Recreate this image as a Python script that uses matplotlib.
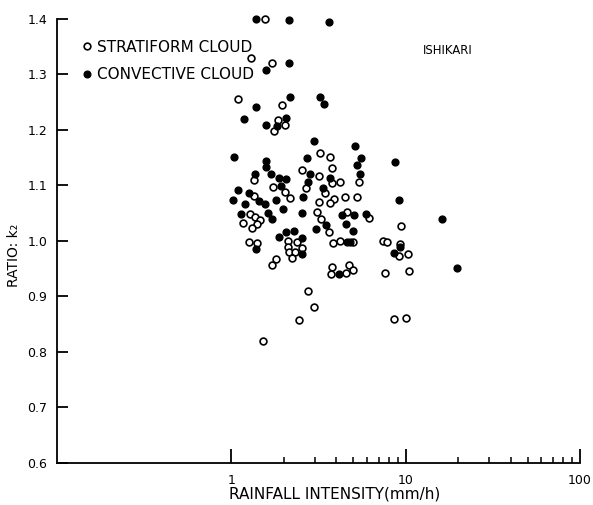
import numpy as np
import matplotlib
matplotlib.use("Agg")
import matplotlib.pyplot as plt
from matplotlib.lines import Line2D
from matplotlib.ticker import FixedLocator, NullFormatter

# stratiform cloud (open circles): rainfall intensity (mm/h), ratio k2
strat_x = [1.55, 1.30, 1.70, 1.09, 1.95, 1.76, 1.86, 2.04, 3.21, 3.68,
           3.78, 2.54, 1.35, 3.19, 3.77, 4.22, 5.43, 1.74, 2.68, 2.02,
           1.35, 3.43, 4.48, 5.29, 2.16, 3.89, 3.70, 3.17, 1.28, 1.37,
           1.47, 1.16, 1.40, 1.31, 3.10, 3.25, 3.62, 4.59, 6.18, 1.26,
           1.41, 2.11, 2.37, 3.84, 4.21, 5.01, 7.38, 7.83, 2.11, 2.54,
           2.13, 2.31, 2.24, 1.81, 1.70, 3.80, 3.73, 4.55, 4.76, 4.97,
           7.60, 10.47, 9.24, 9.21, 10.36, 9.46, 2.77, 2.99, 2.44, 1.52,
           8.59, 10.07]
strat_y = [1.400, 1.330, 1.320, 1.256, 1.245, 1.198, 1.218, 1.209, 1.159, 1.151,
           1.131, 1.128, 1.110, 1.117, 1.105, 1.107, 1.106, 1.097, 1.095, 1.089,
           1.081, 1.087, 1.080, 1.079, 1.077, 1.076, 1.069, 1.070, 1.049, 1.044,
           1.038, 1.033, 1.030, 1.024, 1.053, 1.040, 1.016, 1.053, 1.042, 0.998,
           0.997, 1.000, 0.999, 0.997, 1.000, 0.999, 1.000, 0.999, 0.989, 0.988,
           0.980, 0.981, 0.970, 0.968, 0.957, 0.954, 0.941, 0.943, 0.957, 0.948,
           0.942, 0.946, 0.995, 0.973, 0.977, 1.027, 0.909, 0.881, 0.858, 0.819,
           0.859, 0.862]

# convective cloud (filled circles)
conv_x = [1.39, 2.13, 3.64, 1.59, 2.13, 1.38, 2.18, 3.24, 3.41, 1.18,
          1.59, 1.83, 2.07, 2.99, 1.03, 1.59, 1.59, 2.71, 5.15, 5.58,
          5.27, 8.63, 1.36, 1.69, 1.88, 2.07, 2.81, 5.47, 2.77, 3.67,
          1.92, 3.37, 1.09, 1.26, 1.02, 1.44, 1.56, 1.20, 1.81, 2.58,
          9.20, 1.98, 1.14, 1.63, 1.70, 2.53, 3.47, 3.07, 4.33, 5.03,
          5.92, 4.54, 4.99, 1.87, 2.05, 2.30, 2.54, 1.39, 2.55, 4.60,
          4.79, 9.24, 8.53, 4.16, 16.2, 19.6]
conv_y = [1.400, 1.398, 1.395, 1.308, 1.320, 1.241, 1.260, 1.259, 1.247, 1.219,
          1.209, 1.207, 1.221, 1.180, 1.151, 1.144, 1.133, 1.149, 1.171, 1.150,
          1.137, 1.143, 1.120, 1.120, 1.113, 1.111, 1.121, 1.121, 1.106, 1.113,
          1.099, 1.096, 1.091, 1.086, 1.074, 1.072, 1.066, 1.067, 1.073, 1.079,
          1.073, 1.058, 1.048, 1.050, 1.039, 1.050, 1.029, 1.022, 1.046, 1.047,
          1.048, 1.030, 1.018, 1.007, 1.016, 1.018, 1.005, 0.986, 0.976, 0.999,
          0.999, 0.989, 0.979, 0.940, 1.040, 0.952]

y_ticks = [0.6, 0.7, 0.8, 0.9, 1.0, 1.1, 1.2, 1.3, 1.4]
x_ticks = [1, 10, 100]
x_minor = [2, 3, 4, 5, 6, 7, 8, 9, 20, 30, 40, 50, 60, 70, 80, 90]

fig = plt.figure(figsize=(5.93, 5.05), dpi=100)
ax = fig.add_axes([0.0961, 0.0832, 0.882, 0.8792])

ax.scatter(strat_x, strat_y, s=24, facecolors="white", edgecolors="black",
           linewidths=1.2, clip_on=False, zorder=3)
ax.scatter(conv_x, conv_y, s=24, color="black", clip_on=False, zorder=3)

ax.set_xscale("log")
ax.set_xlim(0.1, 100)
ax.set_ylim(0.6, 1.4)

ax.spines["top"].set_visible(False)
ax.spines["right"].set_visible(False)
for sp in ("left", "bottom"):
    ax.spines[sp].set_linewidth(1.3)

ax.xaxis.set_major_locator(FixedLocator(x_ticks))
ax.xaxis.set_minor_locator(FixedLocator(x_minor))
ax.xaxis.set_minor_formatter(NullFormatter())
ax.set_xticklabels([str(v) for v in x_ticks])
ax.set_yticks(y_ticks)
ax.set_yticklabels(["%.1f" % v for v in y_ticks])

ax.tick_params(axis="x", which="major", direction="in", length=10, width=1.3,
               pad=8, labelsize=9)
ax.tick_params(axis="x", which="minor", direction="in", length=4, width=1.1)
ax.tick_params(axis="y", which="major", direction="in", length=8, width=1.3,
               pad=7, labelsize=9)

fig.text(335 / 593, 1 - 494 / 505, "RAINFALL INTENSITY(mm/h)", ha="center",
         va="center", fontsize=11)
fig.text(14 / 593, 1 - 255 / 505, "RATIO: k\u2082", rotation=90, ha="center",
         va="center", fontsize=10)
fig.text(448 / 593, 1 - 51 / 505, "ISHIKARI", ha="center", va="center",
         fontsize=8.5)

handles = [
    Line2D([], [], ls="none", marker="o", ms=4.8, mfc="white", mec="black", mew=1.2),
    Line2D([], [], ls="none", marker="o", ms=4.8, mfc="black", mec="black"),
]
ax.legend(handles, ["STRATIFORM CLOUD", "CONVECTIVE CLOUD"], loc="upper left",
          bbox_to_anchor=(82.5 / 593, 1 - 39.5 / 505), bbox_transform=fig.transFigure,
          frameon=False, fontsize=11, handlelength=0.6, handletextpad=0.37,
          labelspacing=0.85, borderpad=0, borderaxespad=0)

fig.savefig("out.png", dpi=100)
